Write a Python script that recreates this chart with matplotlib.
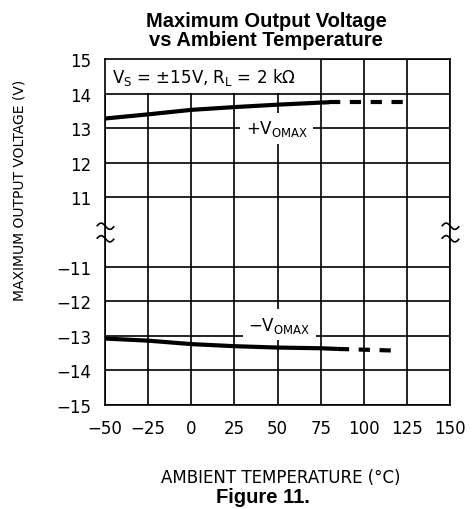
import numpy as np
import matplotlib
matplotlib.use("Agg")
import matplotlib.pyplot as plt
from matplotlib.path import Path
from matplotlib.patches import Rectangle

plt.rcParams['mathtext.default'] = 'regular'

# ---- data -------------------------------------------------------------
temp_pos_solid = [-50, -25, 0, 25, 50, 75, 80]
vout_pos_solid = [13.28, 13.40, 13.53, 13.61, 13.68, 13.74, 13.75]
temp_pos_dash = [80, 125]
vout_pos_dash = [13.75, 13.75]

temp_neg_solid = [-50, -25, 0, 25, 50, 75, 85]
vout_neg_solid = [-13.08, -13.14, -13.24, -13.30, -13.34, -13.36, -13.38]
temp_neg_dash = [85, 120]
vout_neg_dash = [-13.38, -13.43]

x_ticks = [-50, -25, 0, 25, 50, 75, 100, 125, 150]
y_tick_values = [-15, -14, -13, -12, -11, 11, 12, 13, 14, 15]
y_tick_labels = ["\u221215", "\u221214", "\u221213", "\u221212", "\u221211",
                 "11", "12", "13", "14", "15"]


# broken y axis: -15..-11 maps to 0..4, 11..15 maps to 6..10
def ymap(v):
    v = np.asarray(v, dtype=float)
    return np.where(v > 0, v - 11 + 6, v + 15)


W, H = 472, 510
fig = plt.figure(figsize=(W / 100, H / 100), dpi=100)
ax = fig.add_axes([105 / W, 1 - 406 / H, 345 / W, 346 / H])

ax.set_xlim(-50, 150)
ax.set_ylim(0, 10)
ax.set_xticks(x_ticks)
ax.set_xticklabels([str(t).replace("-", "\u2212") for t in x_ticks])
ax.set_yticks(ymap(y_tick_values))
ax.set_yticklabels(y_tick_labels)
ax.tick_params(length=0, labelsize=12, pad=10)
for lab in ax.get_xticklabels() + ax.get_yticklabels():
    lab.set_family("DejaVu Sans")

ax.set_axisbelow(True)
ax.grid(True, color="black", linewidth=1.2)
for sp in ax.spines.values():
    sp.set_linewidth(1.2)
    sp.set_zorder(4)

# condition box in the top row
ax.add_patch(Rectangle((-50, 9.03), 124.4, 0.97, facecolor="white",
                       edgecolor="none", zorder=1))
ax.text(-46, 9.5, "$V_S$ = \u00b115V, $R_L$ = 2 k\u03a9", ha="left",
        va="center", fontsize=12, family="DejaVu Sans", zorder=2)

# curves
lw = 3.0
ax.plot(temp_pos_solid, ymap(vout_pos_solid), color="black", lw=lw,
        solid_capstyle="butt", zorder=3)
ax.plot(temp_pos_dash, ymap(vout_pos_dash), color="black", lw=lw,
        dashes=(2.7, 2.3), dash_capstyle="butt", zorder=3)
ax.plot(temp_neg_solid, ymap(vout_neg_solid), color="black", lw=lw,
        solid_capstyle="butt", zorder=3)
ax.plot(temp_neg_dash, ymap(vout_neg_dash), color="black", lw=lw,
        dashes=(2.7, 2.3), dash_capstyle="butt", zorder=3)

box = dict(facecolor="white", edgecolor="none", pad=4)
ax.text(49.5, ymap(13.0), "+$V_{OMAX}$", ha="center", va="center",
        fontsize=12, family="DejaVu Sans", bbox=box, zorder=2)
ax.text(51, ymap(-12.68), "\u2212$V_{OMAX}$", ha="center", va="center",
        fontsize=12, family="DejaVu Sans", bbox=box, zorder=2)

# axis break symbols on both spines: two stacked tildes
t = np.linspace(-1, 1, 30)
verts, codes = [], []
for dy in (5.0, -5.0):
    xs = 7.0 * t
    ys = dy - 2.5 * np.sin(np.pi * t)
    for i, (xv, yv) in enumerate(zip(xs, ys)):
        verts.append((xv, yv))
        codes.append(Path.MOVETO if i == 0 else Path.LINETO)
brk = Path(verts, codes)
ax.plot([-50, 150], [5, 5], linestyle="none", marker=brk, markersize=13.5,
        markerfacecolor="none", markeredgecolor="black",
        markeredgewidth=1.2, clip_on=False, zorder=5)

# labels and titles
fig.text(20 / W, 1 - 190 / H, "MAXIMUM OUTPUT VOLTAGE (V)", rotation=90,
         ha="center", va="center", fontsize=10, family="DejaVu Sans")
fig.text(281 / W, 1 - 478 / H, "AMBIENT TEMPERATURE (\u00b0C)",
         ha="center", va="center", fontsize=12, family="DejaVu Sans")
fig.text(266 / W, 1 - 31 / H, "Maximum Output Voltage\nvs Ambient Temperature",
         ha="center", va="center", fontsize=14.5, fontweight="bold",
         family="Liberation Sans", linespacing=1.05)
fig.text(263 / W, 1 - 498 / H, "Figure 11.", ha="center", va="center",
         fontsize=14.5, fontweight="bold", family="Liberation Sans")

fig.savefig("out.png", dpi=100)
